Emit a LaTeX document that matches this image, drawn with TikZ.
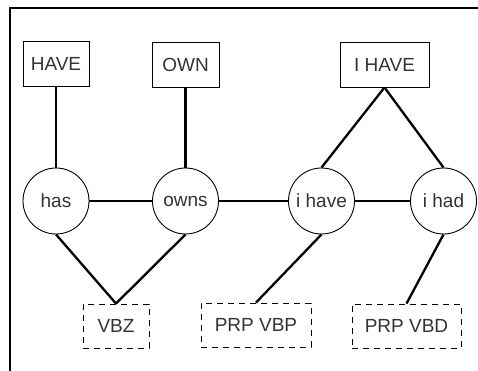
\documentclass[tikz,border=0pt]{standalone}
\usepackage{fontspec}
\setmainfont{Liberation Sans}
\begin{document}
\begin{tikzpicture}[x=1pt,y=-1pt,
  every node/.style={font=\fontsize{19}{22}\selectfont, text=black!80},
  lbox/.style={draw, line width=0.9pt, minimum height=45pt, inner sep=0pt},
  word/.style={draw, circle, line width=0.9pt, minimum size=66pt, inner sep=0pt},
  tag/.style={draw, line width=0.9pt, dash pattern=on 6pt off 5pt, minimum height=44pt, inner sep=0pt},
  link/.style={line width=2.3pt}]
\useasboundingbox (0,0) rectangle (478,371);
\draw[line width=1.5pt] (10,371) -- (10,8) -- (478,8);
\node[lbox, minimum width=66pt] (HAVE) at (56,63.5) {HAVE};
\node[lbox, minimum width=67pt] (OWN) at (185.5,64.5) {OWN};
\node[lbox, minimum width=89pt] (IHAVE) at (384.5,64.5) {I HAVE};
\node[word] (has) at (56,201) {has};
\node[word] (owns) at (185.5,201) {owns};
\node[word] (ihave) at (321.5,201) {i have};
\node[word] (ihad) at (443.5,201) {i had};
\node[tag, minimum width=66pt] (VBZ) at (116,326) {VBZ};
\node[tag, minimum width=110pt] (VBP) at (256,325) {PRP VBP};
\node[tag, minimum width=109pt] (VBD) at (406.5,326) {PRP VBD};
\draw[link] (HAVE.south) -- (has.north);
\draw[link] (OWN.south) -- (owns.north);
\draw[link] (IHAVE.south) -- (ihave.north);
\draw[link] (IHAVE.south) -- (ihad.north);
\draw[link] (has) -- (owns);
\draw[link] (owns) -- (ihave);
\draw[link] (ihave) -- (ihad);
\draw[link] (has.south) -- (VBZ.north);
\draw[link] (owns.south) -- (VBZ.north);
\draw[link] (ihave.south) -- (VBP.north);
\draw[link] (ihad.south) -- (VBD.north);
\end{tikzpicture}
\end{document}
